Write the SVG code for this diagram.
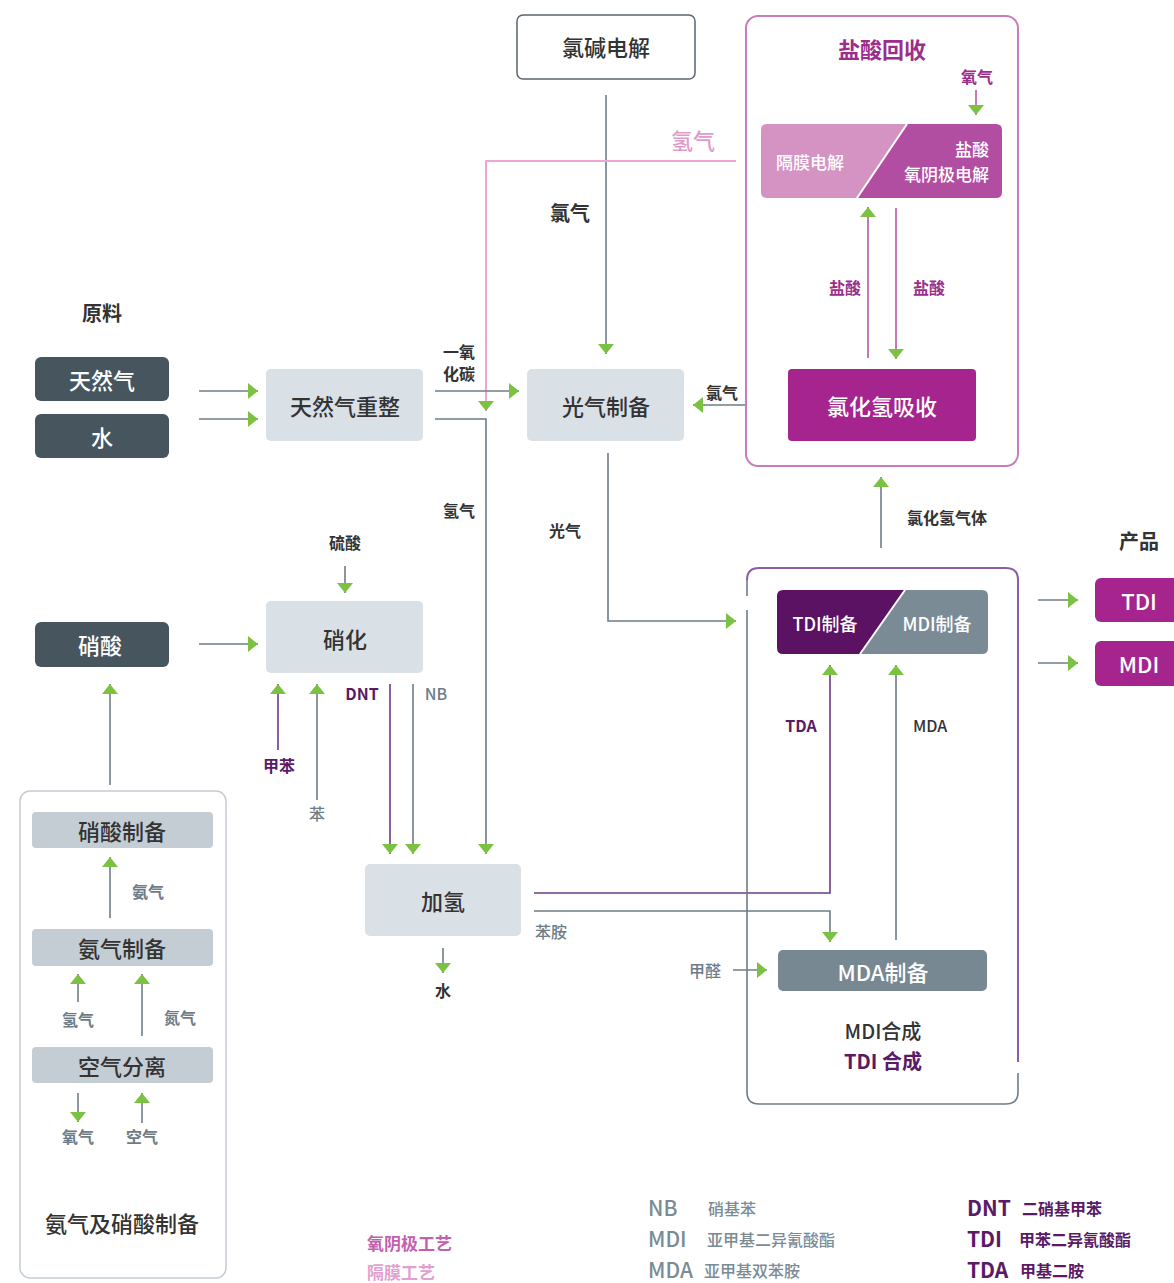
<svg xmlns="http://www.w3.org/2000/svg" width="1174" height="1283" viewBox="0 0 1174 1283">
<defs>
<marker id="ah" viewBox="0 0 10 16" markerWidth="10" markerHeight="16" refX="10" refY="8" orient="auto" markerUnits="userSpaceOnUse">
<path d="M0,0 L10,8 L0,16 z" fill="#7cc242"/>
</marker>
</defs>
<style>
text{font-family:"Noto Sans CJK SC","Noto Sans",sans-serif;text-anchor:middle;dominant-baseline:central}
.ln{fill:none;stroke:#6e7c87;stroke-width:1.6}
.lp{fill:none;stroke:#6b3a86;stroke-width:1.6}
.lm{fill:none;stroke:#b25aa8;stroke-width:1.6}
.lk{fill:none;stroke:#eaa7d4;stroke-width:2}
.dark{fill:#46555e}
.light{fill:#d9e0e6}
.sub{fill:#c5cdd4}
.wt{fill:#fff;font-size:22px;font-weight:500}
.bt{fill:#333;font-size:22px;font-weight:500}
.lb{fill:#333;font-size:16px;font-weight:bold}
.lg{fill:#6e7c87;font-size:16px;font-weight:bold}
.pu{fill:#5a1a66;font-size:16px;font-weight:bold}
.mg{fill:#9c2d8a;font-size:16px;font-weight:bold}
</style>

<g id="connectors">
<line class="ln" x1="606" y1="95" x2="606" y2="354" marker-end="url(#ah)"/>
<polyline class="lk" points="736,161 486,161 486,411" marker-end="url(#ah)"/>
<line class="lm" x1="976" y1="90" x2="976" y2="115" marker-end="url(#ah)"/>
<line class="lm" x1="868" y1="358" x2="868" y2="207" marker-end="url(#ah)"/>
<line class="lm" x1="896" y1="208" x2="896" y2="359" marker-end="url(#ah)"/>
<line class="ln" x1="745" y1="405" x2="693" y2="405" marker-end="url(#ah)"/>
<line class="ln" x1="199" y1="391" x2="258" y2="391" marker-end="url(#ah)"/>
<line class="ln" x1="199" y1="419" x2="258" y2="419" marker-end="url(#ah)"/>
<line class="ln" x1="435" y1="391" x2="519" y2="391" marker-end="url(#ah)"/>
<polyline class="ln" points="435,419 486,419 486,854" marker-end="url(#ah)"/>
<polyline class="ln" points="608,453 608,621 736,621" marker-end="url(#ah)"/>
<line class="ln" x1="881" y1="548" x2="881" y2="477" marker-end="url(#ah)"/>
<line class="ln" x1="1038" y1="600" x2="1078" y2="600" marker-end="url(#ah)"/>
<line class="ln" x1="1038" y1="663" x2="1078" y2="663" marker-end="url(#ah)"/>
<line class="ln" x1="345" y1="566" x2="345" y2="593" marker-end="url(#ah)"/>
<line class="ln" x1="199" y1="644" x2="258" y2="644" marker-end="url(#ah)"/>
<line class="lp" x1="278" y1="750" x2="278" y2="684" marker-end="url(#ah)"/>
<line class="ln" x1="317" y1="800" x2="317" y2="684" marker-end="url(#ah)"/>
<line class="lp" x1="390" y1="684" x2="390" y2="854" marker-end="url(#ah)"/>
<line class="ln" x1="413" y1="684" x2="413" y2="854" marker-end="url(#ah)"/>
<line class="ln" x1="443" y1="948" x2="443" y2="973" marker-end="url(#ah)"/>
<polyline class="lp" points="534,893 830,893 830,665" marker-end="url(#ah)"/>
<polyline class="ln" points="534,911 830,911 830,942" marker-end="url(#ah)"/>
<line class="ln" x1="896" y1="940" x2="896" y2="665" marker-end="url(#ah)"/>
<line class="ln" x1="733" y1="970" x2="767" y2="970" marker-end="url(#ah)"/>
<line class="ln" x1="110" y1="785" x2="110" y2="684" marker-end="url(#ah)"/>
<line class="ln" x1="110" y1="918" x2="110" y2="857" marker-end="url(#ah)"/>
<line class="ln" x1="78" y1="1002" x2="78" y2="974" marker-end="url(#ah)"/>
<line class="ln" x1="142" y1="1036" x2="142" y2="974" marker-end="url(#ah)"/>
<line class="ln" x1="78" y1="1093" x2="78" y2="1122" marker-end="url(#ah)"/>
<line class="ln" x1="142" y1="1123" x2="142" y2="1093" marker-end="url(#ah)"/>
</g>

<g id="chlor-alkali">
<rect x="517" y="15" width="178" height="64" rx="6" fill="#fff" stroke="#5a6670" stroke-width="1.5"/>
<text x="606" y="46" class="bt">氯碱电解</text>
</g>
<text x="570" y="212" class="lb" style="font-size:20px">氯气</text>
<text x="693" y="139" style="fill:#e29acb;font-size:22px;font-weight:500">氢气</text>

<g id="hcl-recovery">
<rect x="746" y="16" width="272" height="450" rx="12" fill="none" stroke="#c77dbb" stroke-width="2"/>
<text x="882" y="48" style="fill:#9c2d8a;font-size:22px;font-weight:bold">盐酸回收</text>
<text x="977" y="76" class="mg">氧气</text>
</g>
<g id="electrolysis">
<path d="M767,124 L907,124 L857,198 L767,198 Q761,198 761,192 L761,130 Q761,124 767,124 z" fill="#d593c3"/>
<path d="M907,124 L996,124 Q1002,124 1002,130 L1002,192 Q1002,198 996,198 L857,198 z" fill="#b24ea2"/>
<line x1="907" y1="124" x2="857" y2="198" stroke="#fff" stroke-width="2"/>
<text x="810" y="161" style="fill:#fff;font-size:17px;font-weight:500">隔膜电解</text>
<text x="989" y="148" style="fill:#fff;font-size:17px;font-weight:500;text-anchor:end">盐酸</text>
<text x="989" y="173" style="fill:#fff;font-size:17px;font-weight:500;text-anchor:end">氧阴极电解</text>
</g>
<text x="845" y="287" class="mg">盐酸</text>
<text x="929" y="287" class="mg">盐酸</text>
<g id="hcl-absorption">
<rect x="788" y="369" width="188" height="72" rx="4" fill="#a5248e"/>
<text x="882" y="405" class="wt">氯化氢吸收</text>
</g>
<text x="722" y="392" class="lb">氯气</text>

<text x="102" y="312" style="fill:#333;font-size:20px;font-weight:bold">原料</text>
<g id="natural-gas">
<rect x="35" y="357" width="134" height="44" rx="6" class="dark"/>
<text x="102" y="379" class="wt">天然气</text>
</g>
<g id="water">
<rect x="35" y="414" width="134" height="44" rx="6" class="dark"/>
<text x="102" y="436" class="wt">水</text>
</g>
<g id="reforming">
<rect x="266" y="369" width="157" height="72" rx="5" class="light"/>
<text x="345" y="405" class="bt">天然气重整</text>
</g>
<text x="459" y="351" class="lb">一氧</text>
<text x="459" y="373" class="lb">化碳</text>
<text x="459" y="510" class="lb">氢气</text>
<g id="phosgene">
<rect x="527" y="369" width="157" height="72" rx="5" class="light"/>
<text x="606" y="405" class="bt">光气制备</text>
</g>
<text x="565" y="530" class="lb">光气</text>
<text x="947" y="517" class="lb">氯化氢气体</text>

<g id="synthesis">
<path d="M747,580 Q747,568 759,568 L1006,568 Q1018,568 1018,580 L1018,1062" fill="none" stroke="#8e5ba5" stroke-width="2"/>
<path d="M747,596 L747,580 M747,610 L747,1092 Q747,1104 759,1104 L1006,1104 Q1018,1104 1018,1092 L1018,1073" fill="none" stroke="#6e7c87" stroke-width="1.6"/>
<text x="883" y="1030" style="fill:#333;font-size:20px;font-weight:500">MDI合成</text>
<text x="883" y="1060" style="fill:#5a1a66;font-size:20px;font-weight:bold">TDI 合成</text>
</g>
<g id="isocyanate">
<path d="M783,590 L905,590 L860,654 L783,654 Q777,654 777,648 L777,596 Q777,590 783,590 z" fill="#5b1263"/>
<path d="M905,590 L982,590 Q988,590 988,596 L988,648 Q988,654 982,654 L860,654 z" fill="#7a8b95"/>
<line x1="905" y1="590" x2="860" y2="654" stroke="#fff" stroke-width="2"/>
<text x="825" y="623" style="fill:#fff;font-size:18px;font-weight:500">TDI制备</text>
<text x="937" y="623" style="fill:#fff;font-size:18px;font-weight:500">MDI制备</text>
</g>
<text x="801" y="725" class="pu">TDA</text>
<text x="930" y="725" style="fill:#333;font-size:16px;font-weight:500">MDA</text>
<g id="mda">
<rect x="778" y="950" width="209" height="41" rx="5" fill="#778892"/>
<text x="883" y="971" class="wt">MDA制备</text>
</g>
<text x="705" y="970" class="lg" style="font-weight:500">甲醛</text>

<text x="1139" y="540" style="fill:#333;font-size:20px;font-weight:bold">产品</text>
<g id="tdi-product">
<rect x="1095" y="578" width="90" height="44" rx="6" fill="#a5248e"/>
<text x="1139" y="600" class="wt">TDI</text>
</g>
<g id="mdi-product">
<rect x="1095" y="641" width="90" height="45" rx="6" fill="#a5248e"/>
<text x="1139" y="663" class="wt">MDI</text>
</g>

<text x="345" y="542" class="lb">硫酸</text>
<g id="nitration">
<rect x="266" y="601" width="157" height="72" rx="5" class="light"/>
<text x="345" y="638" class="bt">硝化</text>
</g>
<g id="nitric-acid">
<rect x="35" y="622" width="134" height="45" rx="6" class="dark"/>
<text x="100" y="644" class="wt">硝酸</text>
</g>
<text x="279" y="765" class="pu">甲苯</text>
<text x="317" y="813" class="lg" style="font-weight:500">苯</text>
<text x="362" y="693" class="pu">DNT</text>
<text x="436" y="693" class="lg" style="font-weight:500">NB</text>
<g id="hydrogenation">
<rect x="365" y="864" width="156" height="72" rx="5" class="light"/>
<text x="443" y="900" class="bt">加氢</text>
</g>
<text x="443" y="990" class="lb">水</text>
<text x="551" y="931" class="lg" style="font-weight:500">苯胺</text>

<g id="ammonia-nitric">
<rect x="20" y="791" width="206" height="487" rx="10" fill="none" stroke="#c4ccd2" stroke-width="1.5"/>
<text x="122" y="1222" class="bt">氨气及硝酸制备</text>
</g>
<g id="nitric-prep">
<rect x="32" y="812" width="181" height="36" rx="4" class="sub"/>
<text x="122" y="830" class="bt">硝酸制备</text>
</g>
<text x="148" y="891" class="lg">氨气</text>
<g id="ammonia-prep">
<rect x="32" y="929" width="181" height="37" rx="4" class="sub"/>
<text x="122" y="947" class="bt">氨气制备</text>
</g>
<text x="78" y="1019" class="lg">氢气</text>
<text x="180" y="1017" class="lg">氮气</text>
<g id="air-separation">
<rect x="32" y="1047" width="181" height="36" rx="4" class="sub"/>
<text x="122" y="1065" class="bt">空气分离</text>
</g>
<text x="78" y="1136" class="lg">氧气</text>
<text x="142" y="1136" class="lg">空气</text>

<g id="legend">
<text x="367" y="1242" style="fill:#c45fb0;font-size:17px;font-weight:bold;text-anchor:start">氧阴极工艺</text>
<text x="367" y="1271" style="fill:#e2a0cf;font-size:17px;font-weight:bold;text-anchor:start">隔膜工艺</text>
<text x="648" y="1207" style="fill:#7a8b95;font-size:21px;font-weight:500;text-anchor:start">NB</text>
<text x="708" y="1208" style="fill:#7a8b95;font-size:16px;font-weight:500;text-anchor:start">硝基苯</text>
<text x="648" y="1238" style="fill:#7a8b95;font-size:21px;font-weight:500;text-anchor:start">MDI</text>
<text x="707" y="1239" style="fill:#7a8b95;font-size:16px;font-weight:500;text-anchor:start">亚甲基二异氰酸酯</text>
<text x="648" y="1269" style="fill:#7a8b95;font-size:21px;font-weight:500;text-anchor:start">MDA</text>
<text x="704" y="1270" style="fill:#7a8b95;font-size:16px;font-weight:500;text-anchor:start">亚甲基双苯胺</text>
<text x="967" y="1207" style="fill:#5a1a66;font-size:21px;font-weight:bold;text-anchor:start">DNT</text>
<text x="1022" y="1208" style="fill:#5a1a66;font-size:16px;font-weight:bold;text-anchor:start">二硝基甲苯</text>
<text x="967" y="1238" style="fill:#5a1a66;font-size:21px;font-weight:bold;text-anchor:start">TDI</text>
<text x="1019" y="1239" style="fill:#5a1a66;font-size:16px;font-weight:bold;text-anchor:start">甲苯二异氰酸酯</text>
<text x="967" y="1269" style="fill:#5a1a66;font-size:21px;font-weight:bold;text-anchor:start">TDA</text>
<text x="1020" y="1270" style="fill:#5a1a66;font-size:16px;font-weight:bold;text-anchor:start">甲基二胺</text>
</g>
</svg>
